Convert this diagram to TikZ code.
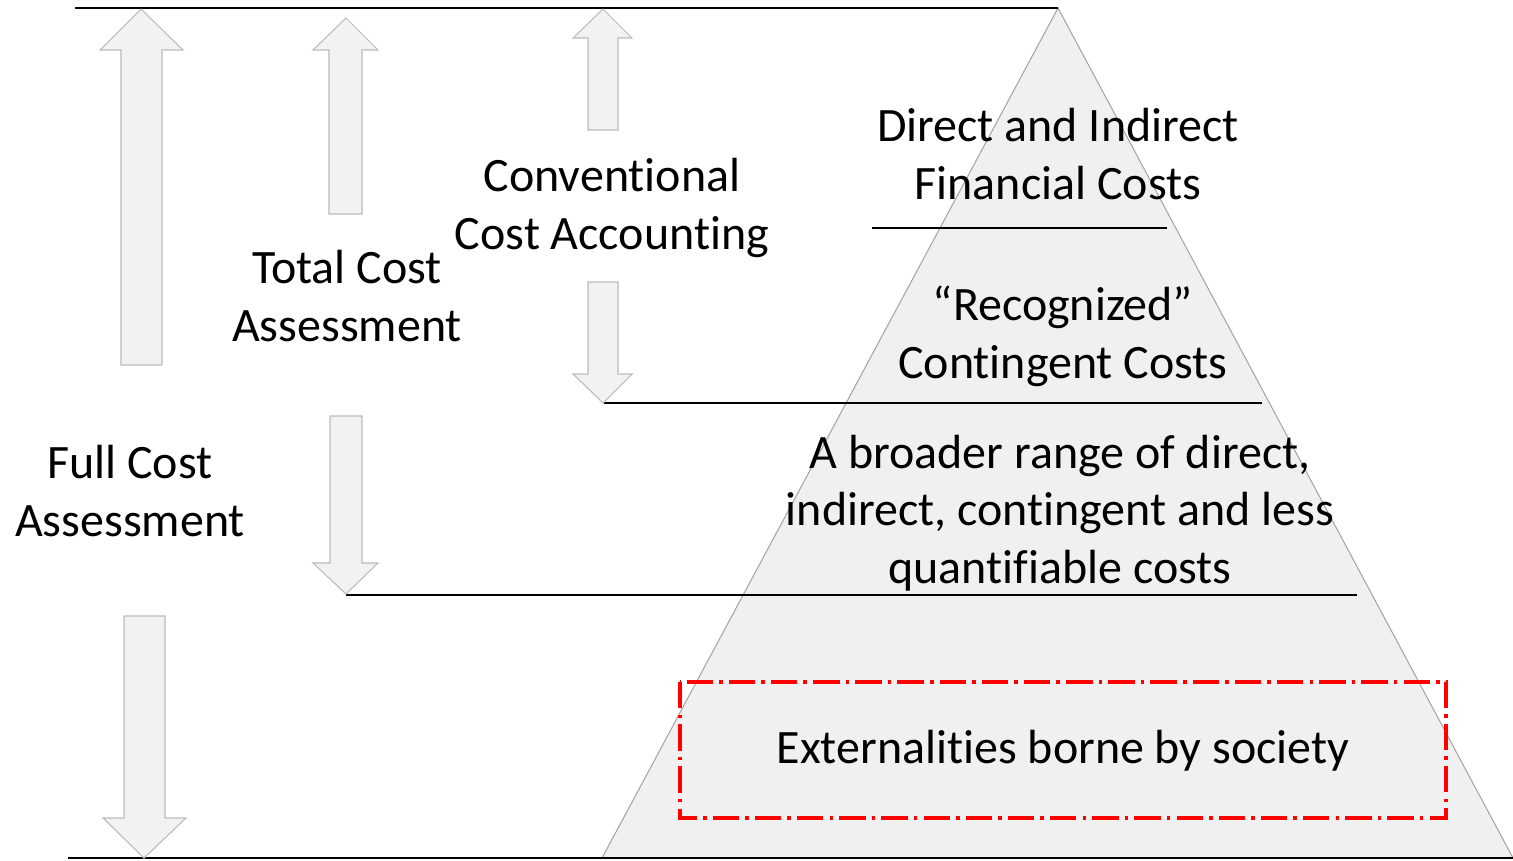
\documentclass[tikz,border=0pt]{standalone}
\usepackage{fontspec}
\setmainfont{Carlito}[Ligatures={NoCommon}]
\definecolor{arrowfill}{HTML}{F2F2F2}
\definecolor{arrowline}{HTML}{BBBBBB}
\definecolor{pyrfill}{HTML}{F0F0F0}
\definecolor{pyrline}{HTML}{A6A6A6}
\definecolor{extred}{HTML}{FF0000}
\begin{document}
\begin{tikzpicture}[x=0.02cm,y=-0.02cm,
  blockarrow/.style={fill=arrowfill, draw=arrowline, line width=0.6pt, line join=miter},
  level/.style={draw=black, line width=0.7pt},
  lbl/.style={align=center, font=\fontsize{27.3}{32.9}\selectfont, inner sep=0pt},
  extbox/.style={draw=extred, line width=1.9pt,
    dash pattern=on 15pt off 3.5pt on 2pt off 3.5pt},
]
\useasboundingbox (0,0) rectangle (1513,860);

% cost pyramid
\draw[fill=pyrfill, draw=pyrline, line width=0.6pt]
  (1058,8) -- (1513,858) -- (602,858) -- cycle;

% reference lines: top and base
\draw[level] (75,8) -- (1058,8);
\draw[level] (68,858) -- (1513,858);

% boundaries between cost tiers
\draw[level] (872,228) -- (1167,228);
\draw[level] (604,403) -- (1262,403);
\draw[level] (346,595) -- (1357,595);

% block arrows: Full Cost Assessment
\draw[blockarrow] (121,365) -- (121,50) -- (100,50) -- (141,9) -- (183,50) -- (162,50) -- (162,365) -- cycle;
\draw[blockarrow] (124,616) -- (124,818) -- (103,818) -- (144,858) -- (186,818) -- (165,818) -- (165,616) -- cycle;

% block arrows: Total Cost Assessment
\draw[blockarrow] (329,214) -- (329,50) -- (313,50) -- (346,18) -- (378,50) -- (362,50) -- (362,214) -- cycle;
\draw[blockarrow] (330,416) -- (330,563) -- (313,563) -- (346,594) -- (378,563) -- (362,563) -- (362,416) -- cycle;

% block arrows: Conventional Cost Accounting
\draw[blockarrow] (588,130) -- (588,38) -- (573,38) -- (603,9) -- (632,38) -- (618,38) -- (618,130) -- cycle;
\draw[blockarrow] (588,282) -- (588,374) -- (573,374) -- (603,403) -- (632,374) -- (618,374) -- (618,282) -- cycle;

% externalities frame
\draw[extbox] (680,682) rectangle (1446,818);

% labels
\node[lbl] (direct) at (1058,154) {Direct and Indirect\\Financial Costs};
\node[lbl] (conv) at (612,208) {Conventional\\Cost Accounting};
\node[lbl] (total) at (347,296) {Total Cost\\Assessment};
\node[lbl] (recog) at (1063,336) {“Recognized”\\Contingent Costs};
\node[lbl] (broad) at (1060,513) {A broader range of direct,\\indirect, contingent and less\\quantifiable costs};
\node[lbl] (full) at (130,491) {Full Cost\\Assessment};
\node[lbl] (ext) at (1063,751) {Externalities borne by society};
\end{tikzpicture}
\end{document}
